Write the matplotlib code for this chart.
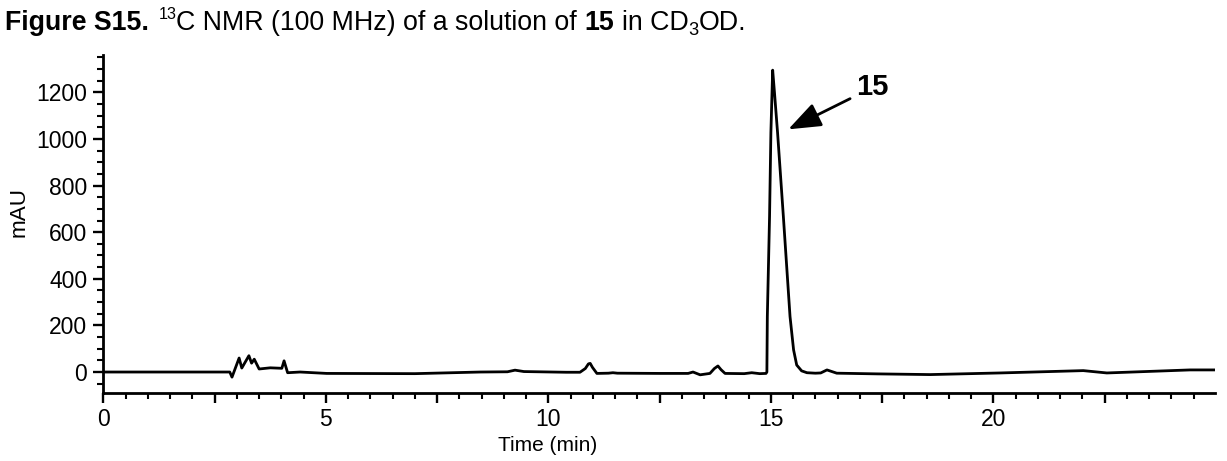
import matplotlib
matplotlib.use("Agg")
import matplotlib.pyplot as plt
from matplotlib.ticker import MultipleLocator, FuncFormatter

plt.rcParams['font.family'] = ['Liberation Sans', 'DejaVu Sans']

# chromatogram trace (time in min, absorbance in mAU)
time_min = [0.0, 2.84, 2.89, 3.05, 3.11, 3.27, 3.33, 3.39, 3.50, 3.75, 4.01, 4.06,
            4.14, 4.42, 5.02, 7.0, 8.47, 9.08, 9.25, 9.45, 10.4, 10.71, 10.83, 10.90,
            10.94, 10.99, 11.09, 11.35, 11.45, 11.55, 12.5, 13.14, 13.25, 13.41, 13.63,
            13.73, 13.81, 13.88, 13.97, 14.4, 14.57, 14.75, 14.89, 14.91, 14.92, 14.97,
            15.00, 15.04, 15.08, 15.15, 15.28, 15.43, 15.51, 15.58, 15.69, 15.81, 16.0,
            16.12, 16.26, 16.48, 17.4, 18.58, 20.15, 22.02, 22.55, 24.42, 24.98]
mau = [0, 0, -22, 60, 17, 70, 38, 55, 13, 18, 16, 48,
       -3, 0, -6, -7, 0, 1, 8, 2, -1, -1, 15, 35,
       37, 20, -6, -5, -3, -5, -6, -6, 0, -12, -6,
       15, 26, 10, -6, -7, -3, -7, -6, 0, 238, 668,
       1027, 1295, 1200, 1027, 668, 238, 95, 30, 5, -3, -5,
       -4, 9, -5, -8, -11, -4, 6, -4, 9, 9]

peak_label = "15"
peak_tip = (15.39, 1041)
label_pos = (17.29, 1221)

fig = plt.figure(figsize=(12.27, 4.61), dpi=100)
ax = fig.add_axes([102.5 / 1227, 68 / 461, 1112.5 / 1227, 338 / 461])

ax.plot(time_min, mau, color='black', lw=2.0)

ax.set_xlim(-0.02, 24.98)
ax.set_ylim(-90, 1360)
ax.xaxis.set_major_locator(MultipleLocator(2.5))
ax.xaxis.set_major_formatter(FuncFormatter(lambda v, p: f"{v:.0f}" if abs(v % 5) < 1e-6 else ""))
ax.xaxis.set_minor_locator(MultipleLocator(0.5))
ax.yaxis.set_major_locator(MultipleLocator(200))
ax.yaxis.set_minor_locator(MultipleLocator(50))
ax.tick_params(which='major', length=7, width=1.7, labelsize=16.5, direction='out', pad=4)
ax.tick_params(which='minor', length=4.5, width=1.5, direction='out')
for s in ['top', 'right']:
    ax.spines[s].set_visible(False)
for s in ['left', 'bottom']:
    ax.spines[s].set_linewidth(2.0)

ax.set_xlabel("Time (min)", fontsize=15)
ax.xaxis.set_label_coords(0.4, -0.128)
ax.set_ylabel("mAU", fontsize=16.2)
ax.yaxis.set_label_coords(-0.066, 0.535)

ax.annotate(peak_label, xy=peak_tip, xytext=label_pos, fontsize=21, fontweight='bold',
            ha='center', va='center',
            arrowprops=dict(arrowstyle='-|>,head_length=0.95,head_width=0.36',
                            color='black', lw=2.0, shrinkA=3, shrinkB=0))

# title built piece by piece (bold parts, superscript, subscript)
renderer = fig.canvas.get_renderer()
size = 19.3
pieces = [("Figure S15.", 'bold', 0, 1.0, 0),
          ("13", 'normal', 0.42, 0.6, 1.3),
          ("C NMR (100 MHz) of a solution of", 'normal', 0, 1.0, 0),
          ("15", 'bold', 0, 1.0, 1),
          ("in CD", 'normal', 0, 1.0, 1),
          ("3", 'normal', -0.2, 0.68, 0),
          ("OD.", 'normal', 0, 1.0, 0)]
probe1 = fig.text(0, 0, "a a", fontsize=size)
probe2 = fig.text(0, 0, "aa", fontsize=size)
space_w = (probe1.get_window_extent(renderer).width
           - probe2.get_window_extent(renderer).width) / fig.bbox.width
probe1.remove()
probe2.remove()

x = 0.004
base = 1 - 30 / 461
for txt, weight, shift, scale, gap in pieces:
    x += gap * space_w
    t = fig.text(x, base + shift * size / 72 * 100 / fig.bbox.height, txt,
                 fontsize=size * scale, fontweight=weight, va='baseline', ha='left')
    x += t.get_window_extent(renderer).width / fig.bbox.width

fig.savefig("out.png", dpi=100)
